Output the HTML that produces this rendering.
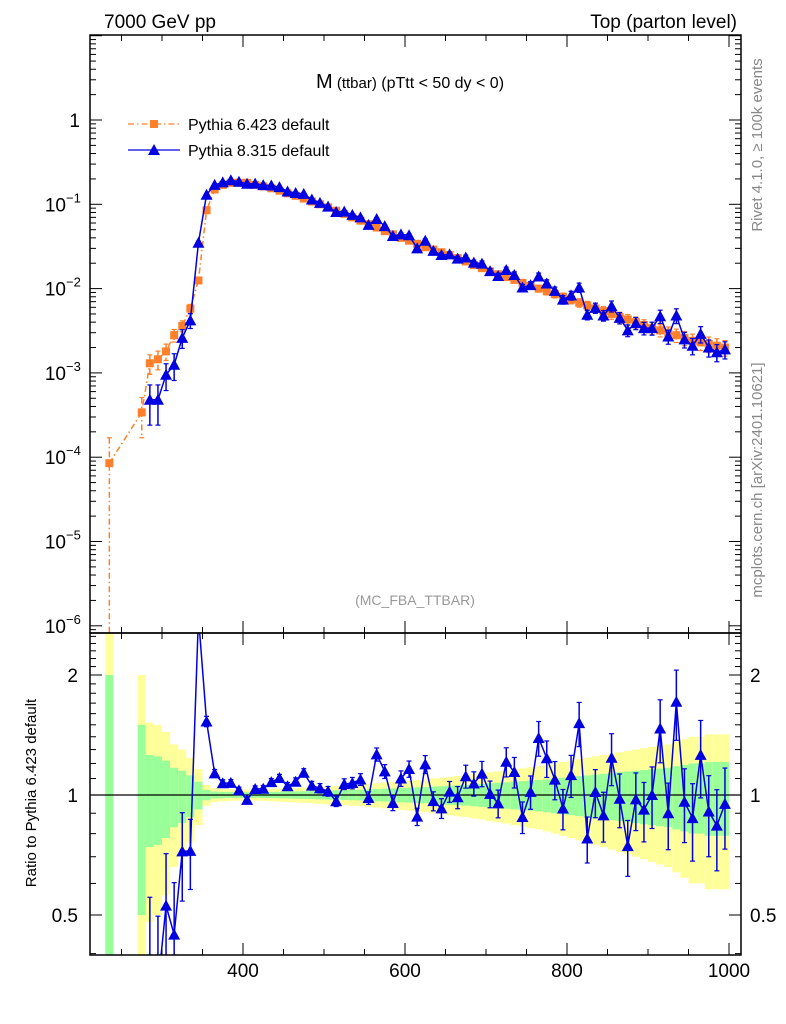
<!DOCTYPE html>
<html><head><meta charset="utf-8"><style>
html,body{margin:0;padding:0;background:#fff;width:786px;height:1024px;overflow:hidden;}
svg{display:block;}
svg text{font-family:"Liberation Sans",sans-serif;}
</style></head><body>
<svg id="c" width="786" height="1024" xmlns="http://www.w3.org/2000/svg" overflow="hidden">
<text x="104" y="28" font-size="19">7000 GeV pp</text>
<text x="737" y="28" font-size="19" text-anchor="end">Top (parton level)</text>
<text x="410" y="88" font-size="20" text-anchor="middle">M<tspan font-size="15"> (ttbar)</tspan><tspan font-size="16"> (pTtt &lt; 50 dy &lt; 0)</tspan></text>
<text x="415" y="605" font-size="14" fill="#999" text-anchor="middle">(MC_FBA_TTBAR)</text>
<text transform="translate(762,145) rotate(-90)" font-size="15" fill="#888" text-anchor="middle">Rivet 4.1.0, ≥ 100k events</text>
<text transform="translate(762,480) rotate(-90)" font-size="15" fill="#888" text-anchor="middle">mcplots.cern.ch [arXiv:2401.10621]</text>
<text transform="translate(36,793) rotate(-90)" font-size="15" text-anchor="middle">Ratio to Pythia 6.423 default</text>
<g id="legend">
<g>
<line x1="128" y1="124" x2="180" y2="124" stroke="#ff7f2a" stroke-width="1.3" stroke-dasharray="6,3,1.5,3"/>
<rect x="150" y="120" width="8" height="8" fill="#ff7f2a"/>
<text x="188" y="130" font-size="16">Pythia 6.423 default</text></g>
<g>
<line x1="128" y1="150" x2="180" y2="150" stroke="#0000e0" stroke-width="1.3"/>
<polygon points="148,155 160,155 154,144" fill="#0000e0"/>
<text x="188" y="156" font-size="16">Pythia 8.315 default</text></g>
</g>
</svg>
<script>
const bins=[235,245,255,265,275,285,295,305,315,325,335,345,355,365,375,385,395,405,415,425,435,445,455,465,475,485,495,505,515,525,535,545,555,565,575,585,595,605,615,625,635,645,655,665,675,685,695,705,715,725,735,745,755,765,775,785,795,805,815,825,835,845,855,865,875,885,895,905,915,925,935,945,955,965,975,985,995];
const p6=[8.5e-5,null,null,null,3.4e-4,1.3e-3,1.45e-3,1.8e-3,2.8e-3,3.6e-3,5.8e-3,1.25e-2,0.085,0.15,0.17,0.18,0.18,0.18,0.17,0.163,0.155,0.145,0.135,0.126,0.117,0.108,0.100,0.092,0.084,0.077,0.070,0.064,0.058,0.053,0.048,0.044,0.040,0.037,0.034,0.031,0.029,0.027,0.025,0.023,0.021,0.019,0.0175,0.016,0.0148,0.0137,0.0127,0.0117,0.0108,0.0100,0.0093,0.0086,0.0080,0.0074,0.0068,0.0063,0.0058,0.0054,0.0050,0.0046,0.0043,0.0040,0.0037,0.0034,0.0032,0.0030,0.0028,0.0026,0.0024,0.0023,0.0022,0.0021,0.0020];
const p6err=[1.0,0,0,0,0.5,0.26,0.25,0.22,0.17,0.15,0.12,0.08,0.03,0.02,0.018,0.017,0.016,0.016,0.016,0.017,0.018,0.019,0.02,0.021,0.022,0.023,0.025,0.026,0.027,0.028,0.03,0.031,0.033,0.035,0.037,0.039,0.041,0.043,0.045,0.047,0.05,0.052,0.055,0.058,0.06,0.063,0.066,0.07,0.073,0.076,0.08,0.083,0.087,0.09,0.095,0.1,0.105,0.11,0.115,0.12,0.125,0.13,0.135,0.14,0.145,0.15,0.155,0.16,0.165,0.17,0.18,0.19,0.2,0.2,0.21,0.21,0.21];
const p8=[null,null,null,null,null,4.8e-4,4.8e-4,9.5e-4,1.25e-3,2.6e-3,4.2e-3,0.035,0.13,0.17,0.182,0.193,0.185,0.175,0.176,0.169,0.167,0.160,0.142,0.136,0.133,0.114,0.104,0.094,0.081,0.082,0.075,0.070,0.057,0.067,0.055,0.042,0.044,0.043,0.030,0.037,0.028,0.025,0.0255,0.0227,0.0234,0.0203,0.0198,0.0161,0.0141,0.0166,0.0145,0.0103,0.0110,0.0139,0.0115,0.0094,0.0074,0.0083,0.0103,0.0049,0.0059,0.0048,0.0062,0.0045,0.0032,0.0039,0.0034,0.0034,0.0047,0.0027,0.0048,0.0025,0.0021,0.0029,0.0020,0.00176,0.0019];
const p8err=[0,0,0,0,0,0.5,0.5,0.35,0.35,0.25,0.2,0.04,0.03,0.022,0.02,0.019,0.018,0.018,0.018,0.019,0.02,0.021,0.022,0.023,0.024,0.025,0.027,0.028,0.03,0.031,0.033,0.034,0.036,0.038,0.04,0.043,0.045,0.047,0.05,0.052,0.055,0.057,0.06,0.064,0.066,0.07,0.073,0.077,0.08,0.084,0.088,0.091,0.096,0.1,0.105,0.11,0.116,0.121,0.127,0.132,0.138,0.143,0.149,0.154,0.16,0.165,0.17,0.176,0.18,0.19,0.2,0.21,0.22,0.22,0.23,0.23,0.23];
const xTicks=[400,600,800,1000];
const mainYTicks=[1,0.1,0.01,0.001,1e-4,1e-5,1e-6];
const mainYLabels=["1","10","10","10","10","10","10"];
const mainYExp=["","−1","−2","−3","−4","−5","−6"];
const ratioTicks=[0.5,1,2];
const ratioLabels=["0.5","1","2"];

const NS="http://www.w3.org/2000/svg";
const svg=document.getElementById('c');
const L=90,R=741,MT=35,MB=633,RB=955;
const xS=v=>243+(v-400)*0.81;
const yM=v=>120-84.3*Math.log10(v);
const yR=r=>795-398.6*Math.log10(r);
function el(t,a,p){const e=document.createElementNS(NS,t);for(const k in a)e.setAttribute(k,a[k]);(p||svg).appendChild(e);return e;}
const clampR=y=>Math.max(MB,Math.min(RB,y));

const defs=el('defs',{});
const cm=el('clipPath',{id:'cm'},defs);el('rect',{x:L,y:MT,width:R-L,height:MB-MT},cm);
const cr=el('clipPath',{id:'cr'},defs);el('rect',{x:L,y:MB,width:R-L,height:RB-MB},cr);

const bandG=el('g',{'clip-path':'url(#cr)'});


bins.forEach((b,i)=>{
  if(p6[i]===null)return;
  const s=p6err[i];const x0=xS(b-5),x1=xS(b+5);
  const yt=clampR(yR(1+2*s)),yb=(1-2*s)>0?clampR(yR(1-2*s)):RB;
  const y=el('rect',{x:x0,y:yt,width:x1-x0,height:yb-yt,fill:'#ffff99'},bandG);
  
  
  const gt=clampR(yR(1+s)),gb=(1-s)>0?clampR(yR(1-s)):RB;
  const g=el('rect',{x:x0,y:gt,width:x1-x0,height:gb-gt,fill:'#99ff99'},bandG);
  
  
});
el('line',{x1:L,y1:yR(1),x2:R,y2:yR(1),stroke:'#000','stroke-width':1.3});

function series(vals,errs,color,dash,marker,clip,yf,name,ratioMode,yLimit){
  const g=el('g',{'clip-path':'url(#'+clip+')'});
  
  
  let pts=[];
  bins.forEach((b,i)=>{
    let v=vals[i];if(v===null)return;
    if(ratioMode){if(p6[i]===null)return;v=v/p6[i];}
    const x=xS(b),y=yf(v);
    pts.push([x,y]);
    const e=errs[i];
    const yt=yf(v*(1+e));
    const open=(1-e)<=0.001;
    const yb=open?yLimit:Math.min(yf(v*(1-e)),yLimit);
    const eb=el('line',{x1:x,y1:yt,x2:x,y2:yb,stroke:color,'stroke-width':1.5,'stroke-dasharray':dash||'none'},g);
    
    
    el('line',{x1:x-2.5,y1:yt,x2:x+2.5,y2:yt,stroke:color,'stroke-width':1.2},g);
    if(!open)el('line',{x1:x-2.5,y1:yb,x2:x+2.5,y2:yb,stroke:color,'stroke-width':1.2},g);
  });
  el('polyline',{points:pts.map(p=>p[0]+','+Math.min(p[1],yLimit+50)).join(' '),fill:'none',stroke:color,'stroke-width':1.5,'stroke-dasharray':dash||'none'},g);
  pts.forEach(([x,y])=>{
    if(y>yLimit+20)return;
    let m;
    if(marker==='sq')m=el('rect',{x:x-4,y:y-4,width:8,height:8,fill:color},g);
    else m=el('polygon',{points:`${x-6},${y+5} ${x+6},${y+5} ${x},${y-6}`,fill:color},g);
    
    
  });
}
series(p6,p6err,'#ff7f2a','6,3,1.5,3','sq','cm',yM,'series-pythia6',false,MB);
series(p8,p8err,'#0000e0',null,'tri','cm',yM,'series-pythia8',false,MB);
series(p8,p8err,'#0000e0',null,'tri','cr',yR,'ratio-series-pythia8',true,RB);

const fm=el('rect',{x:L,y:MT,width:R-L,height:MB-MT,fill:'none',stroke:'#000','stroke-width':1.5});


const fr=el('rect',{x:L,y:MB,width:R-L,height:RB-MB,fill:'none',stroke:'#000','stroke-width':1.5});



const tk=el('g',{stroke:'#000','stroke-width':1});
for(let v=250;v<=1000;v+=50){
  const x=xS(v);const major=v%200===0;const len=major?12:6;
  [MT,MB].forEach(y0=>{el('line',{x1:x,y1:y0,x2:x,y2:y0+len},tk);});
  [MB,RB].forEach(y0=>{el('line',{x1:x,y1:y0,x2:x,y2:y0-len},tk);});
}
for(let d=-7;d<=1;d++){
  for(let m=1;m<10;m++){
    const v=m*Math.pow(10,d);const y=yM(v);if(y<MT||y>MB)continue;
    const len=m===1?12:6;
    el('line',{x1:L,y1:y,x2:L+len,y2:y},tk);el('line',{x1:R,y1:y,x2:R-len,y2:y},tk);
  }
}
for(let r=0.4;r<=2.55;r+=0.1){
  const y=yR(r);if(y<MB||y>RB)continue;
  const rr=Math.round(r*10)/10;const len=(rr===0.5||rr===1||rr===2)?12:6;
  el('line',{x1:L,y1:y,x2:L+len,y2:y},tk);el('line',{x1:R,y1:y,x2:R-len,y2:y},tk);
}
xTicks.forEach(v=>{const t=el('text',{x:xS(v),y:977,'font-size':19,'text-anchor':'middle'});t.textContent=v;
  
  });
mainYTicks.forEach((v,i)=>{
  const t=el('text',{x:mainYExp[i]?66:80,y:yM(v)+7,'font-size':19,'text-anchor':'end'});
  t.textContent=mainYLabels[i];
  
  
  if(mainYExp[i]){const s=el('text',{x:66,y:yM(v)-2,'font-size':13});s.textContent=mainYExp[i];}
});
ratioTicks.forEach((r,i)=>{
  const y=yR(r)+7;
  const t=el('text',{x:78,y:y,'font-size':19,'text-anchor':'end'});t.textContent=ratioLabels[i];
  
  
  const t2=el('text',{x:750,y:y,'font-size':19});t2.textContent=ratioLabels[i];
  
  
});
</script>
</body></html>
